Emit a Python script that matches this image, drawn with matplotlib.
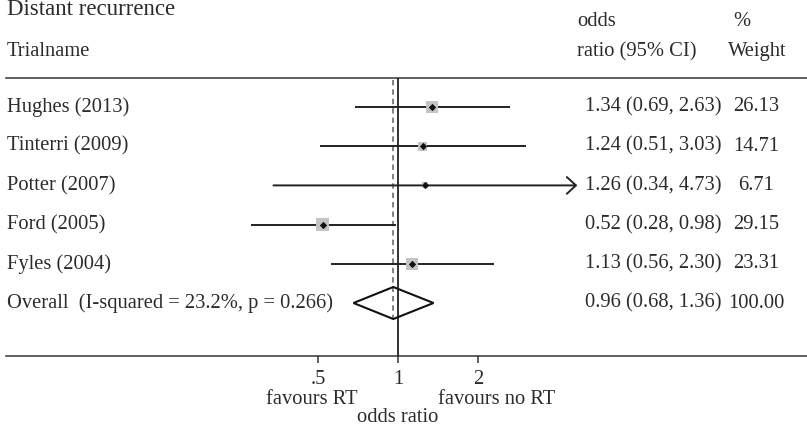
import numpy as np
import matplotlib
matplotlib.use('Agg')
import matplotlib.pyplot as plt
from matplotlib.patches import Polygon

# Data
studies = ['Hughes (2013)', 'Tinterri (2009)', 'Potter (2007)', 'Ford (2005)', 'Fyles (2004)']
odds_ratio = [1.34, 1.24, 1.26, 0.52, 1.13]
ci_low = [0.69, 0.51, 0.34, 0.28, 0.56]
ci_high = [2.63, 3.03, 4.73, 0.98, 2.30]
weight = [26.13, 14.71, 6.71, 29.15, 23.31]

overall_label = 'Overall  (I-squared = 23.2%, p = 0.266)'
overall_or = 0.96
overall_low = 0.68
overall_high = 1.36

xticks = [0.5, 1, 2]
xtick_labels = ['.5', '1', '2']

W, H = 807, 429
TXT = '#2b2b2b'
FS = 14.8
plt.rcParams['font.family'] = ['Liberation Serif', 'DejaVu Serif']

fig = plt.figure(figsize=(W / 100, H / 100), dpi=100)
ax = fig.add_axes([0, 0, 1, 1])
ax.set_xscale('log', base=2)
# 80 px per doubling, OR = 1 at px 398; rows 39.2 px apart starting at px 107
ax.set_xlim(2 ** (-398 / 80), 2 ** ((W - 398) / 80))
row_h = 39.2
ax.set_ylim((H - 107) / row_h, -107 / row_h)
ax.axis('off')


def ry(px):
    # pixel row -> data y
    return (px - 107) / row_h


def fx(px):
    # pixel column -> axes fraction
    return px / W


tr = ax.get_yaxis_transform()
rows = np.arange(len(studies))
overall_row = len(studies)

# header
ax.text(fx(7), ry(10), 'Distant recurrence', transform=tr, fontsize=16.5, color=TXT, va='center')
ax.text(fx(7), ry(52), 'Trialname', transform=tr, fontsize=FS, color=TXT, va='center')
ax.text(fx(577), ry(22), 'odds', transform=tr, fontsize=FS, color=TXT, va='center')
ax.text(fx(577), ry(52), 'ratio (95% CI)', transform=tr, fontsize=FS, color=TXT, va='center')
ax.text(fx(733), ry(22), '%', transform=tr, fontsize=FS, color=TXT, va='center')
ax.text(fx(728), ry(52), 'Weight', transform=tr, fontsize=FS, color=TXT, va='center')

# frame lines
ax.axhline(ry(78), xmin=fx(6), xmax=1, color='#333333', lw=1.1)
ax.axhline(ry(356), xmin=fx(6), xmax=1, color='#333333', lw=1.1)

# reference lines
ax.vlines(1, ry(78), ry(356), color='#222222', lw=1.3)
ax.vlines(overall_or, ry(80), ry(318), color='#777777', lw=1.3, linestyles=(0, (3, 2.2)))

# studies
for i in rows:
    y = rows[i]
    if studies[i].startswith('Potter'):
        ax.annotate('', xy=(ci_high[i], y), xytext=(ci_low[i], y),
                    arrowprops=dict(arrowstyle='->,head_length=0.65,head_width=0.6',
                                    lw=1.4, color='#222222', shrinkA=0, shrinkB=0))
    else:
        ax.plot([ci_low[i], ci_high[i]], [y, y], color='#222222', lw=1.4, solid_capstyle='butt')
    ax.text(fx(7), y, studies[i], transform=tr, fontsize=FS, color=TXT, va='center')
    ax.text(fx(585), y, f'{odds_ratio[i]:.2f} ({ci_low[i]:.2f}, {ci_high[i]:.2f})',
            transform=tr, fontsize=FS, color=TXT, va='center')
    ax.text(fx(756), y, f'{weight[i]:.2f}', transform=tr, fontsize=FS, color=TXT,
            va='center', ha='center')

ax.scatter(odds_ratio, rows, s=np.array(weight) * 2.9, marker='s', color='#c4c4c4', zorder=3,
           linewidths=0)
ax.scatter(odds_ratio, rows, s=14, marker='D', color='#111111', zorder=4, linewidths=0)

# overall diamond
h = 16 / row_h
dia = Polygon([[overall_low, overall_row], [overall_or, overall_row - h],
               [overall_high, overall_row], [overall_or, overall_row + h]],
              closed=True, facecolor='none', edgecolor='#111111', lw=1.5, zorder=5)
ax.add_patch(dia)
ax.text(fx(7), overall_row, overall_label, transform=tr, fontsize=FS, color=TXT, va='center')
ax.text(fx(585), overall_row, f'{overall_or:.2f} ({overall_low:.2f}, {overall_high:.2f})',
        transform=tr, fontsize=FS, color=TXT, va='center')
ax.text(fx(756), overall_row, '100.00', transform=tr, fontsize=FS, color=TXT,
        va='center', ha='center')

# x axis ticks and labels
ax.vlines(xticks, ry(356), ry(363), color='#333333', lw=1.1)
for t, lab in zip(xticks, xtick_labels):
    ax.text(t, ry(380), lab, fontsize=FS, color=TXT, ha='center', va='center')
ax.text(fx(312), ry(400), 'favours RT', transform=tr, fontsize=FS, color=TXT, ha='center', va='center')
ax.text(fx(497), ry(400), 'favours no RT', transform=tr, fontsize=FS, color=TXT, ha='center', va='center')
ax.text(1, ry(418), 'odds ratio', fontsize=FS, color=TXT, ha='center', va='center')

fig.savefig('out.png', dpi=100, facecolor='white')
